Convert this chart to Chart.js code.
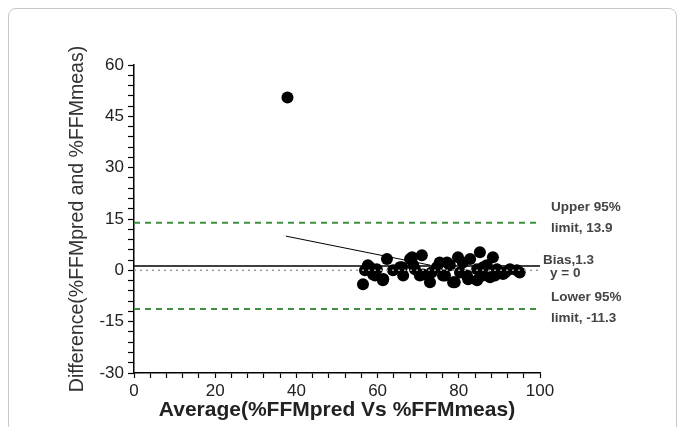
<!DOCTYPE html>
<html>
<head>
  <title>Bland-Altman plot</title>
  <script src="https://cdn.jsdelivr.net/npm/chart.js"></script>
  <style>
    body { margin: 0; background: #fff; overflow: hidden; }
    #frame { position: absolute; left: 8px; top: 8px; width: 667px; height: 440px;
             border: 1px solid #c8c8c8; border-radius: 8px; }
    #wrap { position: absolute; left: 0; top: 0; width: 683px; height: 427px; }
  </style>
</head>
<body>
  <div id="frame"></div>
  <div id="wrap"><canvas id="baChart" width="683" height="427"></canvas></div>

  <script>
    // averages (x) and differences (y) of each subject
    const avgValues = [37.8, 56.4, 56.9, 57.6, 58.1, 58.9, 59.4, 59.8, 61.3, 61.4, 62.3, 63.8,
      65.5, 66.0, 66.3, 68.0, 68.5, 68.8, 69.2, 70.4, 70.9, 71.2, 72.9, 73.3, 74.6, 75.3,
      76.1, 76.6, 77.1, 77.8, 78.6, 79.0, 79.8, 80.3, 81.0, 82.0, 82.3, 82.8, 84.5, 84.5,
      85.2, 86.0, 86.0, 86.9, 87.7, 88.4, 88.9, 89.4, 90.9, 91.4, 92.6, 94.3, 95.0];
    const diffValues = [50.5, -4.1, 0.0, 1.5, 0.9, -1.2, -1.5, 0.3, -2.9, -2.5, 3.3, 0.0,
      0.9, 0.9, -1.5, 3.3, 3.8, 1.5, 0.3, -1.5, 4.4, -1.2, -3.5, -0.6, 0.9, 2.3,
      -1.5, -1.5, 2.3, 1.5, -3.5, -3.5, 3.8, -0.6, 2.3, -1.5, -2.6, 3.3, 0.3, -2.9,
      5.3, 0.9, -1.5, 1.5, -2.0, 3.8, -1.5, 0.3, -1.1, -0.6, 0.3, 0.0, -0.6];

    const bias = 1.3;
    const upperLimit = 13.9;
    const lowerLimit = -11.3;
    const xRange = [0, 100];
    const yRange = [-30, 60];
    // leader line drawn from the label area into the cluster
    const leaderX = [37.4, 73];
    const leaderY = [10, 1.5];

    const points = avgValues.map((v, i) => ({ x: v, y: diffValues[i] }));
    const hline = y => xRange.map(x => ({ x: x, y: y }));

    const labelPlugin = {
      id: 'limitLabels',
      afterDraw(chart) {
        const ctx = chart.ctx;
        const ys = chart.scales.y;
        const r = chart.chartArea.right;
        ctx.save();
        ctx.fillStyle = '#444';
        ctx.font = 'bold 13.5px "Liberation Sans", Arial, sans-serif';
        ctx.textBaseline = 'middle';
        ctx.textAlign = 'left';
        ctx.fillText('Upper 95%', r + 11, ys.getPixelForValue(upperLimit) - 15);
        ctx.fillText('limit, 13.9', r + 11, ys.getPixelForValue(upperLimit) + 6);
        ctx.fillText('Bias,1.3', r + 3, ys.getPixelForValue(bias) - 6);
        ctx.fillText('y = 0', r + 10, ys.getPixelForValue(0) + 3);
        ctx.fillText('Lower 95%', r + 11, ys.getPixelForValue(lowerLimit) - 12);
        ctx.fillText('limit, -11.3', r + 11, ys.getPixelForValue(lowerLimit) + 9);
        ctx.restore();
      }
    };

    const tickFont = { family: '"Liberation Sans", Arial, sans-serif', size: 17 };

    new Chart(document.getElementById('baChart'), {
      type: 'scatter',
      data: {
        datasets: [
          { data: hline(upperLimit), type: 'line', borderColor: '#3f8f3f', borderWidth: 2,
            borderDash: [6, 5], pointRadius: 0, fill: false },
          { data: hline(lowerLimit), type: 'line', borderColor: '#3f8f3f', borderWidth: 2,
            borderDash: [6, 5], pointRadius: 0, fill: false },
          { data: hline(0), type: 'line', borderColor: '#999', borderWidth: 1.5,
            borderDash: [2, 4], pointRadius: 0, fill: false },
          { data: hline(bias), type: 'line', borderColor: '#000', borderWidth: 1.5,
            pointRadius: 0, fill: false },
          { data: leaderX.map((x, i) => ({ x: x, y: leaderY[i] })), type: 'line',
            borderColor: '#000', borderWidth: 1, pointRadius: 0, fill: false },
          { data: points, backgroundColor: '#000', borderWidth: 0, pointRadius: 6 }
        ]
      },
      options: {
        responsive: false,
        animation: false,
        layout: { padding: { left: 66, top: 65, right: 143, bottom: 4 } },
        plugins: { legend: { display: false }, tooltip: { enabled: false } },
        scales: {
          x: {
            type: 'linear', min: xRange[0], max: xRange[1],
            grid: { display: true, drawOnChartArea: false, drawTicks: true, tickLength: 5, tickColor: '#000', tickWidth: 1.2 },
            border: { color: '#000', width: 1.5 },
            ticks: { stepSize: 4, autoSkip: false, maxRotation: 0, color: '#222', font: tickFont, padding: 3,
              callback: v => (v % 20 === 0 ? v : '') },
            title: { display: true, text: 'Average(%FFMpred Vs %FFMmeas)', color: '#222',
              font: { family: '"Liberation Sans", Arial, sans-serif', size: 21, weight: 'bold' }, padding: 0 },
            afterFit: s => { s.height = 50; }
          },
          y: {
            min: yRange[0], max: yRange[1],
            grid: { display: true, drawOnChartArea: false, drawTicks: true, tickLength: 6, tickColor: '#000', tickWidth: 1.2 },
            border: { color: '#000', width: 1.5 },
            ticks: { stepSize: 3, autoSkip: false, color: '#222', font: tickFont, padding: 4,
              callback: v => (v % 15 === 0 ? v : '') },
            title: { display: true, text: 'Difference(%FFMpred and %FFMmeas)', color: '#333',
              font: { family: '"Liberation Sans", Arial, sans-serif', size: 19.5 }, padding: 0 },
            afterFit: s => { s.width = 68; }
          }
        }
      },
      plugins: [labelPlugin]
    });
  </script>
</body>
</html>
